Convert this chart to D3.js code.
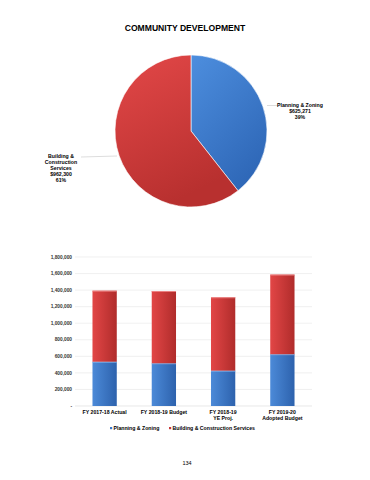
<!DOCTYPE html>
<html>
<head>
<meta charset="utf-8">
<script src="https://cdn.jsdelivr.net/npm/d3@7"></script>
<style>
  body { margin: 0; background: #fff; }
  text { font-family: "Liberation Sans", Arial, sans-serif; }
</style>
</head>
<body>
<script>
const years = ["FY 2017-18 Actual", "FY 2018-19 Budget", "FY 2018-19\nYE Proj.", "FY 2019-20\nAdopted Budget"];
const planning = [535000, 516000, 427000, 625271];
const building = [858000, 873000, 886000, 962300];
const seriesNames = ["Planning & Zoning", "Building & Construction Services"];
const pieLabels = [["Planning & Zoning", "$625,271", "39%"], ["Building &", "Construction", "Services", "$962,300", "61%"]];
const yTicks = [0, 200000, 400000, 600000, 800000, 1000000, 1200000, 1400000, 1600000, 1800000];

const svg = d3.select("body").append("svg")
  .attr("width", 370)
  .attr("height", 480);

const defs = svg.append("defs");
function grad(id, c1, c2, x2, y2) {
  const g = defs.append("linearGradient").attr("id", id)
    .attr("x1", 0).attr("y1", 0).attr("x2", x2).attr("y2", y2);
  g.append("stop").attr("offset", "0%").attr("stop-color", c1);
  g.append("stop").attr("offset", "100%").attr("stop-color", c2);
}
grad("pieBlue", "#4d8ede", "#2f68b8", 0.6, 1);
grad("pieRed", "#e34848", "#b8302f", 0.4, 1);
grad("barBlue", "#4c8ad8", "#2d62ad", 1, 0);
grad("barRed", "#e24646", "#b02c2b", 1, 0);

svg.append("text")
  .attr("x", 185)
  .attr("y", 31)
  .attr("text-anchor", "middle")
  .attr("font-size", "8.6px")
  .attr("font-weight", "bold")
  .text("COMMUNITY DEVELOPMENT");

// pie
const pieData = [planning[3], building[3]];
const pie = d3.pie().sort(null)(pieData);
const arc = d3.arc().innerRadius(0).outerRadius(76);
const pg = svg.append("g").attr("transform", "translate(191,131)");
pg.selectAll("path")
  .data(pie)
  .enter().append("path")
  .attr("d", arc)
  .attr("fill", function (d, i) { return i == 0 ? "url(#pieBlue)" : "url(#pieRed)"; })
  .attr("stroke", "#fff")
  .attr("stroke-width", 0.6);

// pie labels
svg.append("line").attr("x1", 267).attr("y1", 105.5).attr("x2", 278).attr("y2", 105.5)
  .attr("stroke", "#bbb").attr("stroke-width", 0.5);
svg.append("line").attr("x1", 81).attr("y1", 157).attr("x2", 117).attr("y2", 156)
  .attr("stroke", "#bbb").attr("stroke-width", 0.5);

const lbl1 = svg.append("text").attr("text-anchor", "middle").attr("font-size", "5.2px").attr("font-weight", "bold");
pieLabels[0].forEach(function (t, i) {
  lbl1.append("tspan").attr("x", 300).attr("y", 107 + i * 6).text(t);
});
const lbl2 = svg.append("text").attr("text-anchor", "middle").attr("font-size", "5.2px").attr("font-weight", "bold");
pieLabels[1].forEach(function (t, i) {
  lbl2.append("tspan").attr("x", 61).attr("y", 158 + i * 6).text(t);
});

// bar chart
const x0 = 75, x1 = 312, yBot = 406, yTop = 257;
const xScale = d3.scaleBand().domain(years).range([x0, x1]).paddingInner(0.59).paddingOuter(0.295);
const yScale = d3.scaleLinear().domain([0, 1800000]).range([yBot, yTop]);

const g = svg.append("g");
g.selectAll(".grid")
  .data(yTicks.slice(1))
  .enter().append("line")
  .attr("x1", x0).attr("x2", x1)
  .attr("y1", function (d) { return yScale(d); })
  .attr("y2", function (d) { return yScale(d); })
  .attr("stroke", "#e6e6e6")
  .attr("stroke-width", 0.6);

g.append("line").attr("x1", x0).attr("x2", x1).attr("y1", yBot).attr("y2", yBot)
  .attr("stroke", "#d9d9d9").attr("stroke-width", 0.6);

g.selectAll(".ylab")
  .data(yTicks)
  .enter().append("text")
  .attr("x", 72)
  .attr("y", function (d) { return yScale(d) + 1.7; })
  .attr("text-anchor", "end")
  .attr("font-size", "4.8px")
  .attr("font-weight", "bold")
  .attr("fill", "#333")
  .text(function (d) { return d == 0 ? "-" : d3.format(",")(d); });

const stackRows = years.map(function (y, i) { return { year: y, p: planning[i], b: building[i] }; });
const stacked = d3.stack().keys(["p", "b"])(stackRows);
const fills = ["url(#barBlue)", "url(#barRed)"];
const tops = ["#8bb6ea", "#ef8a8a"];

stacked.forEach(function (s, k) {
  g.selectAll(".bar" + k)
    .data(s)
    .enter().append("rect")
    .attr("x", function (d) { return xScale(d.data.year); })
    .attr("y", function (d) { return yScale(d[1]); })
    .attr("width", xScale.bandwidth())
    .attr("height", function (d) { return yScale(d[0]) - yScale(d[1]); })
    .attr("fill", fills[k]);
  g.selectAll(".top" + k)
    .data(s)
    .enter().append("rect")
    .attr("x", function (d) { return xScale(d.data.year); })
    .attr("y", function (d) { return yScale(d[1]); })
    .attr("width", xScale.bandwidth())
    .attr("height", 0.9)
    .attr("fill", tops[k]);
});

// x labels
years.forEach(function (y) {
  const t = g.append("text").attr("text-anchor", "middle").attr("font-size", "5.2px").attr("font-weight", "bold");
  y.split("\n").forEach(function (line, i) {
    t.append("tspan").attr("x", xScale(y) + xScale.bandwidth() / 2).attr("y", 413.5 + i * 6).text(line);
  });
});

// legend
const legX = [110, 169];
const legCol = ["#3c78c8", "#c83838"];
seriesNames.forEach(function (n, i) {
  g.append("rect").attr("x", legX[i]).attr("y", 427).attr("width", 2.2).attr("height", 2.2).attr("fill", legCol[i]);
  g.append("text").attr("x", legX[i] + 3.5).attr("y", 429.8)
    .attr("font-size", "5.2px").attr("font-weight", "bold").text(n);
});

svg.append("text")
  .attr("x", 187)
  .attr("y", 465)
  .attr("text-anchor", "middle")
  .attr("font-size", "5.5px")
  .text("134");
</script>
</body>
</html>
